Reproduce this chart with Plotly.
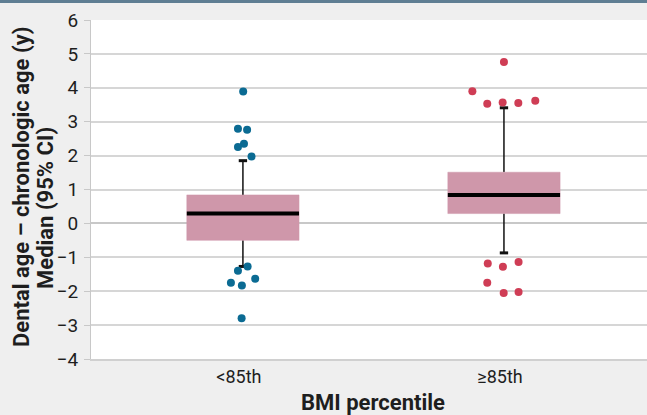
import plotly.graph_objects as go

# ---- data ----
categories = ["<85th", "≥85th"]
cat_pos = [0, 1]

q1 = [-0.50, 0.29]
median = [0.29, 0.84]
q3 = [0.84, 1.51]
lower_whisker = [-1.27, -0.87]
upper_whisker = [1.85, 3.41]

low_values = [3.89, 2.79, 2.76, 2.35, 2.25, 1.97, -1.27, -1.40, -1.63, -1.75, -1.83, -2.80]
low_jitter = [0.001, -0.019, 0.016, 0.004, -0.019, 0.033, 0.018, -0.019, 0.047, -0.046, -0.004, -0.005]
high_values = [4.76, 3.90, 3.53, 3.57, 3.55, 3.62, -1.18, -1.28, -1.14, -1.75, -2.05, -2.02]
high_jitter = [0.0, -0.121, -0.064, -0.005, 0.055, 0.120, -0.062, -0.004, 0.056, -0.064, -0.001, 0.056]

y_ticks = [-4, -3, -2, -1, 0, 1, 2, 3, 4, 5, 6]

y_title_lines = ["Dental age – chronologic age (y)", "Median (95% CI)"]
x_title = "BMI percentile"

BOX_HALF = 0.215
CAP_HALF = 0.016
PINK = "#cf97aa"
BLUE = "#0b6b93"
RED = "#cf3d55"
TEXT = "#1e1e1e"

fig = go.Figure()

for i, c in enumerate(cat_pos):
    # whiskers
    fig.add_trace(go.Scatter(x=[c, c, None, c, c], y=[q3[i], upper_whisker[i], None, q1[i], lower_whisker[i]],
                             mode="lines", line=dict(color="#111111", width=1.5),
                             hoverinfo="skip", showlegend=False))
    # caps
    fig.add_trace(go.Scatter(x=[c - CAP_HALF, c + CAP_HALF, None, c - CAP_HALF, c + CAP_HALF],
                             y=[upper_whisker[i], upper_whisker[i], None, lower_whisker[i], lower_whisker[i]],
                             mode="lines", line=dict(color="#111111", width=3),
                             hoverinfo="skip", showlegend=False))
    # box
    fig.add_trace(go.Scatter(x=[c - BOX_HALF, c + BOX_HALF, c + BOX_HALF, c - BOX_HALF, c - BOX_HALF],
                             y=[q1[i], q1[i], q3[i], q3[i], q1[i]],
                             mode="lines", fill="toself", fillcolor=PINK,
                             line=dict(color=PINK, width=0.5),
                             hoverinfo="skip", showlegend=False))
    # median
    fig.add_trace(go.Scatter(x=[c - BOX_HALF, c + BOX_HALF], y=[median[i], median[i]],
                             mode="lines", line=dict(color="#000000", width=4),
                             hoverinfo="skip", showlegend=False))

fig.add_trace(go.Scatter(x=[cat_pos[0] + j for j in low_jitter], y=low_values, mode="markers",
                         marker=dict(color=BLUE, size=8), showlegend=False))
fig.add_trace(go.Scatter(x=[cat_pos[1] + j for j in high_jitter], y=high_values, mode="markers",
                         marker=dict(color=RED, size=8), showlegend=False))

L, T, B = 91, 20, 56
PLOT_H = 415.0 - T - B
PLOT_W = 647.0 - L
BOTTOM = 415 - B


def px_x(px):
    return (px - L) / PLOT_W


def px_y(py):
    return (BOTTOM - py) / PLOT_H


title_font = dict(family="Roboto", size=22, color=TEXT)

fig.update_layout(
    width=647, height=415,
    margin=dict(l=L, r=0, t=T, b=B),
    paper_bgcolor="#efefef",
    plot_bgcolor="#ffffff",
    font=dict(family="Roboto", size=18, color=TEXT),
    shapes=[dict(type="rect", xref="paper", yref="paper", x0=px_x(-10), x1=px_x(660),
                 y0=px_y(3), y1=px_y(-2), fillcolor="#5f7e93", line=dict(width=0), layer="above")],
    annotations=[
        dict(text="<b>" + y_title_lines[0] + "</b>", xref="paper", yref="paper",
             x=px_x(22), y=px_y(187), xanchor="center", yanchor="middle",
             textangle=-90, showarrow=False, font=title_font),
        dict(text="<b>" + y_title_lines[1] + "</b>", xref="paper", yref="paper",
             x=px_x(45), y=px_y(208), xanchor="center", yanchor="middle",
             textangle=-90, showarrow=False, font=title_font),
        dict(text="<b>" + x_title + "</b>", xref="paper", yref="paper",
             x=px_x(372.5), y=px_y(402), xanchor="center", yanchor="middle",
             showarrow=False, font=title_font),
    ],
)

fig.update_xaxes(
    range=[-0.582, 1.548],
    tickmode="array", tickvals=cat_pos, ticktext=categories,
    showgrid=False, zeroline=False,
    showline=True, linecolor="#d0d0d0", linewidth=2,
    ticks="", tickfont=dict(family="Roboto", size=18),
    ticklabelshift=-4,
)
fig.update_yaxes(
    range=[-4, 6],
    tickmode="array", tickvals=y_ticks,
    showgrid=True, gridcolor="#d6d6d6", gridwidth=1.5,
    zeroline=True, zerolinecolor="#c8c8c8", zerolinewidth=2,
    showline=True, linecolor="#c8c8c8", linewidth=1,
    ticks="outside", ticklen=6, tickcolor="#c8c8c8",
    tickfont=dict(family="Roboto", size=19),
    ticklabelstandoff=2,
)

fig.write_html("out.html", config={"displayModeBar": False},
               post_script="document.body.style.margin='0';document.body.style.background='#efefef';")
